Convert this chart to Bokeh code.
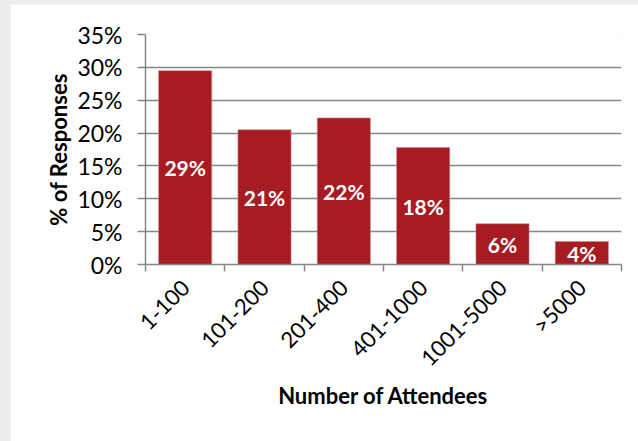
import math
from bokeh.plotting import figure
from bokeh.models import ColumnDataSource, FixedTicker, NumeralTickFormatter, Range1d
from bokeh.layouts import column
from bokeh.core.properties import value
from bokeh.embed import file_html
from bokeh.resources import INLINE

categories = ["1-100", "101-200", "201-400", "401-1000", "1001-5000", ">5000"]
responses = [0.295, 0.205, 0.223, 0.178, 0.062, 0.035]
bar_labels = ["29%", "21%", "22%", "18%", "6%", "4%"]
y_ticks = [0, 0.05, 0.10, 0.15, 0.20, 0.25, 0.30, 0.35]

xs = [i + 0.5 for i in range(len(categories))]
src = ColumnDataSource(dict(
    x=xs,
    top=responses,
    mid=[v / 2 for v in responses],
    lab=bar_labels,
))

FONT = "Lato"
GRAY = "#868686"

p = figure(width=628, height=437, output_backend="svg", toolbar_location=None,
           x_range=Range1d(0, len(categories)), y_range=Range1d(0, 0.35),
           min_border_left=135, min_border_right=17, min_border_top=30, min_border_bottom=177,
           background_fill_color="white", border_fill_color="white", outline_line_color=None)
p.margin = (4, 0, 0, 10)

p.vbar(x="x", top="top", width=0.67, source=src, fill_color="#A71C23", line_color="#c98a8d", line_width=0.6)
p.text(x="x", y="mid", text="lab", source=src, text_color="white",
       text_font=value(FONT), text_font_style="bold", text_font_size="21px",
       text_align="center", text_baseline="middle")

# x axis
p.xaxis.ticker = FixedTicker(ticks=xs, minor_ticks=list(range(len(categories) + 1)))
p.xaxis.major_label_overrides = {x: c for x, c in zip(xs, categories)}
p.xaxis.major_tick_out = 0
p.xaxis.major_tick_in = 0
p.xaxis.minor_tick_out = 7
p.xaxis.minor_tick_in = 0
p.xaxis.minor_tick_line_color = GRAY
p.xaxis.minor_tick_line_width = 1.5
p.xaxis.axis_line_color = GRAY
p.xaxis.axis_line_width = 1.5
p.xaxis.major_label_orientation = math.pi / 4
p.xaxis.major_label_standoff = 12
p.xaxis.major_label_text_font = FONT
p.xaxis.major_label_text_font_size = "22px"
p.xaxis.major_label_text_color = "black"
p.xaxis.axis_label = "Number of Attendees"
p.xaxis.axis_label_text_font = FONT
p.xaxis.axis_label_text_font_style = "bold"
p.xaxis.axis_label_text_font_size = "22px"
p.xaxis.axis_label_text_color = "black"
p.xaxis.axis_label_standoff = -2

# y axis
p.yaxis.ticker = FixedTicker(ticks=y_ticks)
p.yaxis.formatter = NumeralTickFormatter(format="0%")
p.yaxis.major_tick_out = 8
p.yaxis.major_tick_in = 0
p.yaxis.minor_tick_line_color = None
p.yaxis.major_tick_line_color = GRAY
p.yaxis.major_tick_line_width = 1.5
p.yaxis.axis_line_color = GRAY
p.yaxis.axis_line_width = 1.5
p.yaxis.major_label_standoff = 15
p.yaxis.major_label_text_font = FONT
p.yaxis.major_label_text_font_size = "23px"
p.yaxis.major_label_text_color = "black"
p.yaxis.axis_label = "% of Responses"
p.yaxis.axis_label_text_font = FONT
p.yaxis.axis_label_text_font_style = "bold"
p.yaxis.axis_label_text_font_size = "22px"
p.yaxis.axis_label_text_color = "black"
p.yaxis.axis_label_standoff = 2

p.xgrid.grid_line_color = None
p.ygrid.ticker = FixedTicker(ticks=y_ticks)
p.ygrid.grid_line_color = GRAY
p.ygrid.grid_line_width = 1.5

layout = column(p, styles={"background-color": "#eeedeb"}, width=638, height=441)

open("out.html", "w").write(file_html(layout, INLINE))
